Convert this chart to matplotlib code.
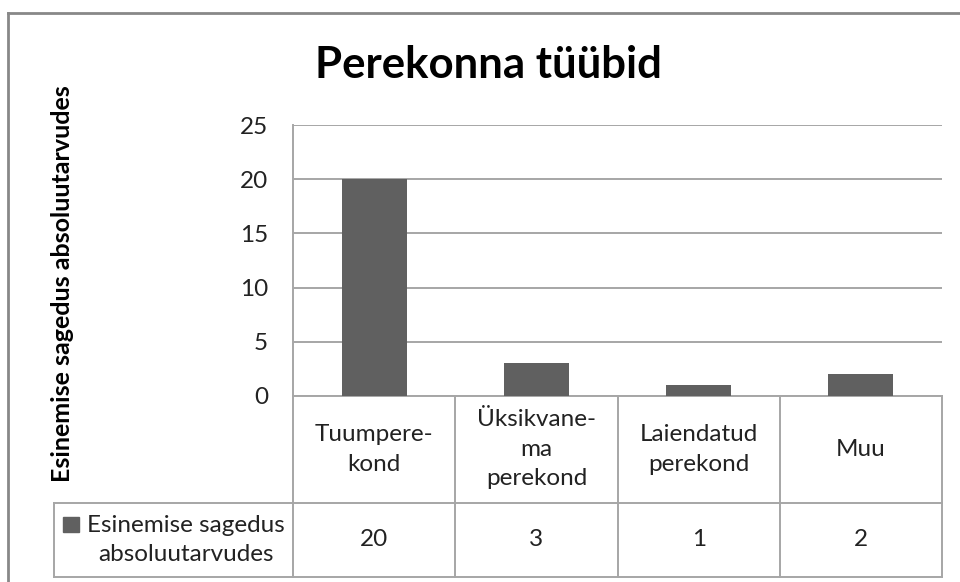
import matplotlib
matplotlib.use("Agg")
import matplotlib.pyplot as plt
from matplotlib.transforms import blended_transform_factory
from matplotlib.lines import Line2D
from matplotlib.patches import Rectangle

plt.rcParams['font.family'] = ['Lato', 'DejaVu Sans']

# ---- data ----
categories = ["Tuumpere-\nkond", "Üksikvane-\nma\nperekond", "Laiendatud\nperekond", "Muu"]
values = [20, 3, 1, 2]
series_name = "Esinemise sagedus\nabsoluutarvudes"
title = "Perekonna tüübid"
ylabel = "Esinemise sagedus absoluutarvudes"
yticks = [0, 5, 10, 15, 20, 25]

W, H = 960, 582
fig = plt.figure(figsize=(W / 100, H / 100), dpi=100)

def fx(px):
    return px / W

def fy(py):
    return (H - py) / H

GRID = "#a6a6a6"
BAR = "#606060"
TXT = "#222222"
FS = 17.5

# plot area
x0, x1, ytop, ybot = 293, 942, 125, 396
ax = fig.add_axes([fx(x0), fy(ybot), fx(x1) - fx(x0), fy(ytop) - fy(ybot)])
xs = list(range(len(categories)))
ax.bar(xs, values, width=0.4, color=BAR, zorder=3)
ax.set_xlim(-0.5, len(categories) - 0.5)
ax.set_ylim(0, 25)
ax.set_yticks(yticks)
ax.set_yticklabels([str(t) for t in yticks], fontsize=FS, color=TXT)
ax.tick_params(axis="y", length=0, pad=18)
ax.set_xticks([])
ax.yaxis.grid(True, color=GRID, linewidth=1.4, zorder=0)
for s in ["top", "right"]:
    ax.spines[s].set_visible(False)
ax.spines["left"].set_color(GRID)
ax.spines["left"].set_linewidth(1.4)
ax.spines["bottom"].set_color(GRID)
ax.spines["bottom"].set_linewidth(1.4)

# data table below the axes: x in data coords, y in figure fraction
tr = blended_transform_factory(ax.transData, fig.transFigure)
y_head_top, y_head_bot, y_tab_bot = fy(396), fy(502.7), fy(577)
n = len(categories)
leg_left_data = -0.5 - (x0 - 54) / ((x1 - x0) / n)

def hline(xa, xb, y):
    fig.add_artist(Line2D([xa, xb], [y, y], transform=tr, color=GRID, linewidth=1.4, clip_on=False))

def vline(x, ya, yb):
    fig.add_artist(Line2D([x, x], [ya, yb], transform=tr, color=GRID, linewidth=1.4, clip_on=False))

hline(leg_left_data, n - 0.5, y_head_bot)
hline(leg_left_data, n - 0.5, y_tab_bot)
for i in range(n + 1):
    vline(i - 0.5, y_head_top, y_tab_bot)
vline(leg_left_data, y_head_bot, y_tab_bot)

for i, (c, v) in enumerate(zip(categories, values)):
    fig.text(i, (y_head_top + y_head_bot) / 2, c, transform=tr, ha="center", va="center",
             fontsize=FS, color=TXT, linespacing=1.5)
    fig.text(i, (y_head_bot + y_tab_bot) / 2, str(v), transform=tr, ha="center", va="center",
             fontsize=FS, color=TXT)

# legend key and series name in table
fig.add_artist(Rectangle((fx(63), fy(532)), fx(79) - fx(63), fy(517) - fy(532),
                         transform=fig.transFigure, color=BAR))
fig.text(fx(186), (y_head_bot + y_tab_bot) / 2, series_name, ha="center", va="center",
         fontsize=FS, color=TXT, linespacing=1.5)

# title and y label
fig.text(fx(488), fy(65), title, ha="center", va="center", fontsize=31.5, fontweight="bold", color="black")
fig.text(fx(63), fy(284), ylabel, ha="center", va="center", rotation=90,
         fontsize=18, fontweight="bold", color="black")

# outer chart border (top and left visible)
fig.add_artist(Line2D([fx(8), 1.0], [fy(13), fy(13)], transform=fig.transFigure, color="#888888", linewidth=2))
fig.add_artist(Line2D([fx(8), fx(8)], [fy(13), 0.0], transform=fig.transFigure, color="#888888", linewidth=2))

fig.savefig("out.png", dpi=100, facecolor="white")
